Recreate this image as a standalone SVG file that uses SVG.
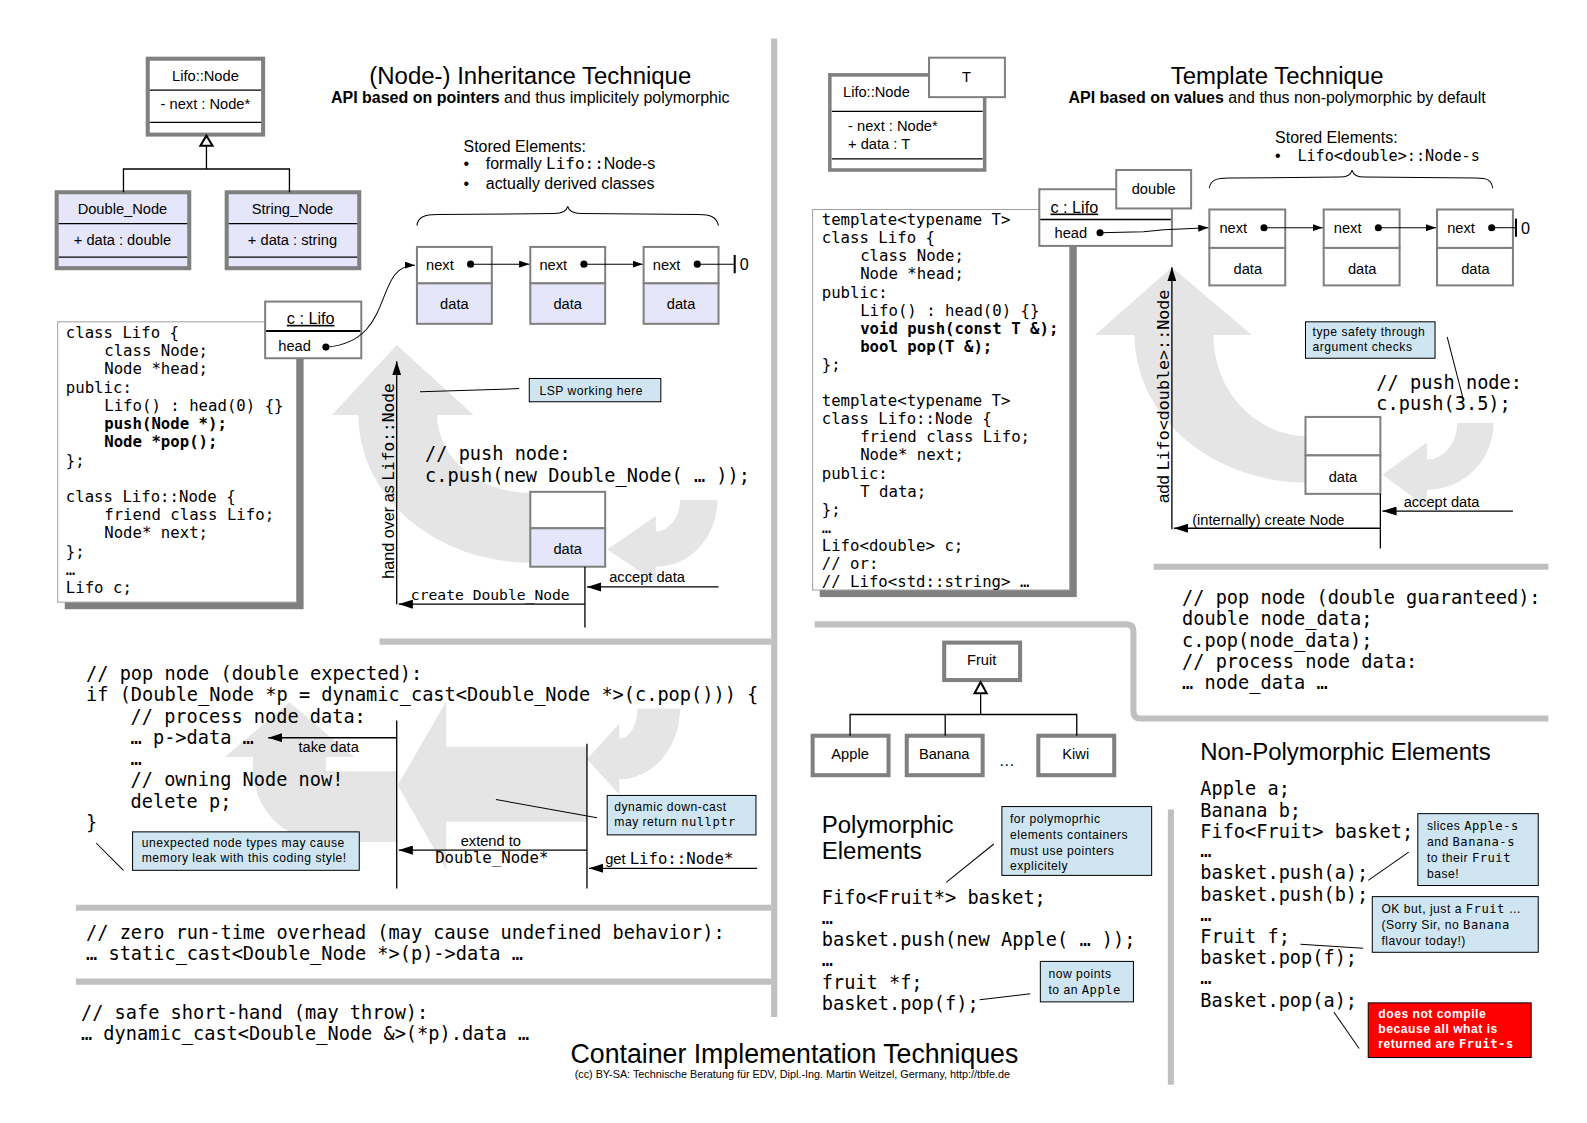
<svg xmlns="http://www.w3.org/2000/svg" width="1587" height="1123" viewBox="0 0 1587 1123">
<style>
text{font-family:"Liberation Sans",Arial,sans-serif;fill:#000}
.m,.m text{font-family:"DejaVu Sans Mono","Liberation Mono",monospace}
.c18,.c18 text{font-size:18.4px}
.c15,.c15 text{font-size:15.5px}
.b{font-weight:bold}
.lbl{font-size:14.5px}
.ttl{font-size:23.7px}
.sub{font-size:15.8px}
.note{font-size:12px;letter-spacing:0.5px}
.mid{text-anchor:middle}
.sep{fill:none;stroke:#c0c0c0;stroke-width:6}
.flow{fill:#e5e5e5}
.uml{fill:#fff;stroke:#808080;stroke-width:4}
.umlf{fill:#e6e6fa;stroke:#808080;stroke-width:4}
.nd{fill:#fff;stroke:#808080;stroke-width:2}
.ndf{fill:#e6e6fa;stroke:#808080;stroke-width:2}
.ln{stroke:#000;stroke-width:1.3;fill:none}
.thin{stroke:#000;stroke-width:1;fill:none}
.notebox{fill:#cfe6f2;stroke:#000;stroke-width:1}
.red{fill:#ff0000;stroke:#000;stroke-width:1}
.shadow{fill:#808080}
.codebox{fill:#fff;stroke:#a0a0a0;stroke-width:1}
.dot{fill:#000}
.tri{fill:#fff;stroke:#000;stroke-width:2}
.se{font-size:15.8px}
</style>
<defs>
<marker id="ah" viewBox="0 0 14 9" refX="14" refY="4.5" markerWidth="14" markerHeight="9" markerUnits="userSpaceOnUse" orient="auto"><path d="M0,0 L14,4.5 L0,9 z" fill="#000"/></marker>
<marker id="as" viewBox="0 0 10 7" refX="10" refY="3.5" markerWidth="10" markerHeight="7" markerUnits="userSpaceOnUse" orient="auto"><path d="M0,0 L10,3.5 L0,7 z" fill="#000"/></marker>
</defs>
<rect x="0" y="0" width="1587" height="1123" fill="#fff"/>
<g transform="scale(1.012)">

<g id="separators">
<line class="sep" x1="765" y1="38" x2="765" y2="1005"/>
<line class="sep" x1="375" y1="634" x2="762" y2="634"/>
<line class="sep" x1="75" y1="897" x2="762" y2="897"/>
<line class="sep" x1="75" y1="970" x2="762" y2="970"/>
<line class="sep" x1="1140" y1="560" x2="1530" y2="560"/>
<path class="sep" d="M805,617 L1113,617 Q1120,617 1120,624 L1120,703 Q1120,710 1127,710 L1530,710"/>
<line class="sep" x1="1157" y1="800" x2="1157" y2="1072"/>
</g>

<g id="flow-arrows">
<path class="flow" d="M354,410 A170,146 0 0 0 524,556 L524,487 A92,77 0 0 1 432,410 L468,410 L392,341 L328,410 Z"/>
<path class="flow" d="M709,494 A61,66 0 0 1 648,560 L648,575 L600,543 L648,510 L648,525 A24,31 0 0 0 672,494 Z"/>
<path class="flow" d="M580,738 L441,738 L441,693 L393,776 L441,860 L441,812 L580,812 Z"/>
<path class="flow" d="M672,700 A60,70 0 0 1 612,770 L612,785 L580,750 L612,715 L612,730 A18,30 0 0 0 630,700 Z"/>
<path class="flow" d="M392,762 L392,832 L322,832 A72,72 0 0 1 250,760 L250,748 L222,748 L286,694 L350,748 L322,748 L322,762 Z"/>
<path class="flow" d="M1121,331 A171,146 0 0 0 1292,477 L1292,431 A93,100 0 0 1 1199,331 L1237,331 L1158,264 L1082,331 Z"/>
<path class="flow" d="M1476,418 A66,66 0 0 1 1410,484 L1410,501 L1366,469 L1410,437 L1410,454 A30,36 0 0 0 1440,418 Z"/>
</g>

<g id="titles">
<text class="ttl mid" x="524" y="83">(Node-) Inheritance Technique</text>
<text class="sub mid" x="524" y="102"><tspan class="b">API based on pointers</tspan> and thus implicitely polymorphic</text>
<text class="ttl mid" x="1262" y="83">Template Technique</text>
<text class="sub mid" x="1262" y="102"><tspan class="b">API based on values</tspan> and thus non-polymorphic by default</text>
<text class="mid" x="785" y="1050" style="font-size:26.4px">Container Implementation Techniques</text>
<text class="mid" x="783" y="1065" style="font-size:10.7px">(cc) BY-SA: Technische Beratung für EDV, Dipl.-Ing. Martin Weitzel, Germany, http://tbfe.de</text>
</g>

<g id="uml-lifo-node">
<rect class="uml" x="146" y="58" width="114" height="75"/>
<line class="ln" x1="148" y1="89" x2="258" y2="89"/>
<line class="ln" x1="148" y1="121" x2="258" y2="121"/>
<text class="lbl mid" x="203" y="80">Lifo::Node</text>
<text class="lbl mid" x="203" y="108">- next : Node*</text>
</g>
<g id="uml-double-node">
<rect class="umlf" x="56" y="190" width="131" height="75"/>
<line class="ln" x1="58" y1="221" x2="185" y2="221"/>
<line class="ln" x1="58" y1="254" x2="185" y2="254"/>
<text class="lbl mid" x="121" y="211">Double_Node</text>
<text class="lbl mid" x="121" y="242">+ data : double</text>
</g>
<g id="uml-string-node">
<rect class="umlf" x="224" y="190" width="131" height="75"/>
<line class="ln" x1="226" y1="221" x2="353" y2="221"/>
<line class="ln" x1="226" y1="254" x2="353" y2="254"/>
<text class="lbl mid" x="289" y="211">String_Node</text>
<text class="lbl mid" x="289" y="242">+ data : string</text>
</g>

<g id="stored-left">
<text class="se" x="458" y="150">Stored Elements:</text>
<text class="se" x="458" y="167">•</text>
<text class="se" x="480" y="167">formally <tspan class="m">Lifo::</tspan>Node-s</text>
<text class="se" x="458" y="187">•</text>
<text class="se" x="480" y="187">actually derived classes</text>
<path class="thin" d="M412,223 C413,214 420,212 432,212 L548,211 C556,211 560,208 561,204 C562,208 566,211 574,211 L690,212 C702,212 708,214 710,223"/>
</g>

<g id="l-node1">
<rect class="nd" x="412" y="244" width="74" height="36"/>
<rect class="ndf" x="412" y="280" width="74" height="40"/>
<text class="lbl" x="421" y="267">next</text>
<text class="lbl mid" x="449" y="305">data</text>
</g>
<g id="l-node2">
<rect class="nd" x="524" y="244" width="74" height="36"/>
<rect class="ndf" x="524" y="280" width="74" height="40"/>
<text class="lbl" x="533" y="267">next</text>
<text class="lbl mid" x="561" y="305">data</text>
</g>
<g id="l-node3">
<rect class="nd" x="636" y="244" width="74" height="36"/>
<rect class="ndf" x="636" y="280" width="74" height="40"/>
<text class="lbl" x="645" y="267">next</text>
<text class="lbl mid" x="673" y="305">data</text>
</g>

<g id="l-code">
<rect class="shadow" x="64" y="325" width="236" height="277"/>
<rect class="codebox" x="57" y="318" width="236" height="277"/>
<g class="m c15">
<text x="65" y="334">class Lifo {</text>
<text x="103" y="352">class Node;</text>
<text x="103" y="370">Node *head;</text>
<text x="65" y="388">public:</text>
<text x="103" y="406">Lifo() : head(0) {}</text>
<text x="103" y="424" class="b">push(Node *);</text>
<text x="103" y="442" class="b">Node *pop();</text>
<text x="65" y="460">};</text>
<text x="65" y="496">class Lifo::Node {</text>
<text x="103" y="514">friend class Lifo;</text>
<text x="103" y="532">Node* next;</text>
<text x="65" y="550">};</text>
<text x="65" y="568">…</text>
<text x="65" y="586">Lifo c;</text>
</g>
</g>

<g id="l-lifo-obj">
<rect class="nd" x="262" y="298" width="95" height="56"/>
<line x1="263" y1="327" x2="356" y2="327" stroke="#000" stroke-width="2"/>
<text class="mid" style="font-size:16px;text-decoration:underline" x="307" y="320">c : Lifo</text>
<text class="lbl" x="275" y="347">head</text>
</g>

<g id="l-push-node">
<rect class="nd" x="524" y="486" width="74" height="36"/>
<rect class="ndf" x="524" y="522" width="74" height="38"/>
<text class="lbl mid" x="561" y="547">data</text>
</g>
<text class="m c18" x="420" y="455">// push node:</text>
<text class="m c18" x="420" y="476">c.push(new Double_Node( … ));</text>
<text style="font-size:16px" transform="translate(389,572) rotate(-90)">hand over as <tspan class="m">Lifo::Node</tspan></text>
<text class="m" style="font-size:14.5px" x="406" y="593">create Double_Node</text>
<text class="lbl" x="602" y="575">accept data</text>

<g id="note-lsp">
<rect class="notebox" x="523" y="374" width="130" height="23"/>
<text class="note" x="533" y="390">LSP working here</text>
</g>

<g id="pop-code" class="m c18">
<text x="85" y="672">// pop node (double expected):</text>
<text x="85" y="693">if (Double_Node *p = dynamic_cast&lt;Double_Node *&gt;(c.pop())) {</text>
<text x="129" y="714">// process node data:</text>
<text x="129" y="735">… p-&gt;data …</text>
<text x="129" y="756">…</text>
<text x="129" y="777">// owning Node now!</text>
<text x="129" y="798">delete p;</text>
<text x="85" y="819">}</text>
</g>
<text class="lbl" x="295" y="743">take data</text>
<text class="lbl mid" x="485" y="836">extend to</text>
<text class="m" style="font-size:15.5px" x="430" y="853">Double_Node*</text>
<text class="lbl" x="598" y="854">get <tspan class="m" style="font-size:15.5px">Lifo::Node*</tspan></text>

<g id="note-downcast">
<rect class="notebox" x="600" y="786" width="147" height="39"/>
<text class="note" x="607" y="801">dynamic down-cast</text>
<text class="note" x="607" y="816">may return <tspan class="m">nullptr</tspan></text>
</g>
<g id="note-leak">
<rect class="notebox" x="131" y="822" width="224" height="38"/>
<text class="note" x="140" y="837">unexpected node types may cause</text>
<text class="note" x="140" y="852">memory leak with this coding style!</text>
</g>

<g id="cast-code" class="m c18">
<text x="85" y="928">// zero run-time overhead (may cause undefined behavior):</text>
<text x="85" y="949">… static_cast&lt;Double_Node *&gt;(p)-&gt;data …</text>
<text x="80" y="1007">// safe short-hand (may throw):</text>
<text x="80" y="1028">… dynamic_cast&lt;Double_Node &amp;&gt;(*p).data …</text>
</g>

<g id="uml-tpl-node">
<rect class="uml" x="820" y="74" width="153" height="94" style="stroke-width:3.5"/>
<line class="ln" x1="822" y1="110" x2="971" y2="110"/>
<line class="ln" x1="822" y1="157" x2="971" y2="157"/>
<text class="lbl" x="833" y="96">Lifo::Node</text>
<text class="lbl" x="838" y="129">- next : Node*</text>
<text class="lbl" x="838" y="147">+ data : T</text>
<rect class="nd" x="918" y="57" width="75" height="39"/>
<text class="lbl mid" x="955" y="81">T</text>
</g>

<g id="stored-right">
<text class="se" x="1260" y="141">Stored Elements:</text>
<text class="se" x="1260" y="159">•</text>
<text class="m" style="font-size:15px" x="1282" y="159">Lifo&lt;double&gt;::Node-s</text>
<path class="thin" d="M1195,186 C1196,178 1202,176 1214,176 L1324,175 C1331,175 1335,172 1336,168 C1337,172 1341,175 1348,175 L1458,176 C1470,176 1474,178 1475,186"/>
</g>

<g id="r-code">
<rect class="shadow" x="810" y="214" width="254" height="376"/>
<rect class="codebox" x="803" y="207" width="254" height="376"/>
<g class="m c15">
<text x="812" y="222">template&lt;typename T&gt;</text>
<text x="812" y="240">class Lifo {</text>
<text x="850" y="258">class Node;</text>
<text x="850" y="276">Node *head;</text>
<text x="812" y="294">public:</text>
<text x="850" y="312">Lifo() : head(0) {}</text>
<text x="850" y="330" class="b">void push(const T &amp;);</text>
<text x="850" y="348" class="b">bool pop(T &amp;);</text>
<text x="812" y="366">};</text>
<text x="812" y="401">template&lt;typename T&gt;</text>
<text x="812" y="419">class Lifo::Node {</text>
<text x="850" y="437">friend class Lifo;</text>
<text x="850" y="455">Node* next;</text>
<text x="812" y="473">public:</text>
<text x="850" y="491">T data;</text>
<text x="812" y="509">};</text>
<text x="812" y="527">…</text>
<text x="812" y="544">Lifo&lt;double&gt; c;</text>
<text x="812" y="562">// or:</text>
<text x="812" y="580">// Lifo&lt;std::string&gt; …</text>
</g>
</g>

<g id="r-lifo-obj">
<rect class="nd" x="1027" y="187" width="131" height="56"/>
<line x1="1028" y1="217" x2="1157" y2="217" stroke="#000" stroke-width="1.5"/>
<text style="font-size:16px;text-decoration:underline" x="1038" y="210">c : Lifo</text>
<text class="lbl" x="1042" y="235">head</text>
<rect class="nd" x="1103" y="168" width="74" height="38"/>
<text class="lbl mid" x="1140" y="192">double</text>
</g>

<g id="r-node1">
<rect class="nd" x="1195" y="207" width="75" height="38"/>
<rect class="nd" x="1195" y="245" width="75" height="37"/>
<text class="lbl" x="1205" y="230">next</text>
<text class="lbl mid" x="1233" y="271">data</text>
</g>
<g id="r-node2">
<rect class="nd" x="1308" y="207" width="75" height="38"/>
<rect class="nd" x="1308" y="245" width="75" height="37"/>
<text class="lbl" x="1318" y="230">next</text>
<text class="lbl mid" x="1346" y="271">data</text>
</g>
<g id="r-node3">
<rect class="nd" x="1420" y="207" width="75" height="38"/>
<rect class="nd" x="1420" y="245" width="75" height="37"/>
<text class="lbl" x="1430" y="230">next</text>
<text class="lbl mid" x="1458" y="271">data</text>
</g>

<g id="r-push-node">
<rect class="nd" x="1290" y="412" width="74" height="38"/>
<rect class="nd" x="1290" y="450" width="74" height="38"/>
<text class="lbl mid" x="1327" y="476">data</text>
</g>
<text class="m c18" x="1360" y="384">// push node:</text>
<text class="m c18" x="1360" y="405">c.push(3.5);</text>
<text style="font-size:16.5px" transform="translate(1155,497) rotate(-90)">add <tspan class="m">Lifo&lt;double&gt;::Node</tspan></text>
<text class="lbl" x="1178" y="519">(internally) create Node</text>
<text class="lbl" x="1387" y="501">accept data</text>
<g id="note-typesafety">
<rect class="notebox" x="1290" y="318" width="128" height="36"/>
<text class="note" x="1297" y="332">type safety through</text>
<text class="note" x="1297" y="347">argument checks</text>
</g>

<g id="pop-right" class="m c18">
<text x="1168" y="597">// pop node (double guaranteed):</text>
<text x="1168" y="618">double node_data;</text>
<text x="1168" y="639">c.pop(node_data);</text>
<text x="1168" y="660">// process node data:</text>
<text x="1168" y="681">… node_data …</text>
</g>

<g id="uml-fruit">
<rect class="uml" x="933" y="635" width="75" height="37"/>
<text class="lbl mid" x="970" y="657">Fruit</text>
</g>
<g id="uml-apple">
<rect class="uml" x="803" y="727" width="75" height="39"/>
<text class="lbl mid" x="840" y="750">Apple</text>
</g>
<g id="uml-banana">
<rect class="uml" x="896" y="727" width="75" height="39"/>
<text class="lbl mid" x="933" y="750">Banana</text>
</g>
<g id="uml-kiwi">
<rect class="uml" x="1026" y="727" width="75" height="39"/>
<text class="lbl mid" x="1063" y="750">Kiwi</text>
</g>
<text style="font-size:16px" x="987" y="757">…</text>

<text class="ttl" x="812" y="823">Polymorphic</text>
<text class="ttl" x="812" y="849">Elements</text>
<g id="note-polymorphic">
<rect class="notebox" x="990" y="797" width="148" height="68"/>
<text class="note" x="998" y="813">for polymoprhic</text>
<text class="note" x="998" y="829">elements containers</text>
<text class="note" x="998" y="845">must use pointers</text>
<text class="note" x="998" y="860">explicitely</text>
</g>
<g id="poly-code" class="m c18">
<text x="812" y="893">Fifo&lt;Fruit*&gt; basket;</text>
<text x="812" y="913">…</text>
<text x="812" y="935">basket.push(new Apple( … ));</text>
<text x="812" y="955">…</text>
<text x="812" y="977">fruit *f;</text>
<text x="812" y="998">basket.pop(f);</text>
</g>
<g id="note-nowpoints">
<rect class="notebox" x="1028" y="950" width="92" height="40"/>
<text class="note" x="1036" y="966">now points</text>
<text class="note" x="1036" y="982">to an <tspan class="m">Apple</tspan></text>
</g>

<text class="ttl" x="1186" y="751">Non-Polymorphic Elements</text>
<g id="nonpoly-code" class="m c18">
<text x="1186" y="786">Apple a;</text>
<text x="1186" y="807">Banana b;</text>
<text x="1186" y="828">Fifo&lt;Fruit&gt; basket;</text>
<text x="1186" y="847">…</text>
<text x="1186" y="869">basket.push(a);</text>
<text x="1186" y="890">basket.push(b);</text>
<text x="1186" y="910">…</text>
<text x="1186" y="932">Fruit f;</text>
<text x="1186" y="953">basket.pop(f);</text>
<text x="1186" y="972">…</text>
<text x="1186" y="995">Basket.pop(a);</text>
</g>
<g id="note-slices">
<rect class="notebox" x="1401" y="804" width="119" height="71"/>
<text class="note" x="1410" y="820">slices <tspan class="m">Apple-s</tspan></text>
<text class="note" x="1410" y="836">and <tspan class="m">Banana-s</tspan></text>
<text class="note" x="1410" y="852">to their <tspan class="m">Fruit</tspan></text>
<text class="note" x="1410" y="868">base!</text>
</g>
<g id="note-okbut">
<rect class="notebox" x="1356" y="886" width="164" height="55"/>
<text class="note" x="1365" y="902">OK but, just a <tspan class="m">Fruit</tspan> …</text>
<text class="note" x="1365" y="918">(Sorry Sir, no <tspan class="m">Banana</tspan></text>
<text class="note" x="1365" y="934">flavour today!)</text>
</g>
<g id="note-nocompile">
<rect class="red" x="1352" y="991" width="161" height="54"/>
<text class="note b" x="1362" y="1006" style="fill:#fff">does not compile</text>
<text class="note b" x="1362" y="1021" style="fill:#fff">because all what is</text>
<text class="note b" x="1362" y="1036" style="fill:#fff">returned are <tspan class="m">Fruit-s</tspan></text>
</g>

<g id="connectors">
<polygon class="tri" points="204,134 198,144 210,144"/>
<polyline class="ln" points="204,144 204,167"/>
<polyline class="ln" points="122,190 122,167 286,167 286,190"/>
<polygon class="tri" points="969,674 963,685 975,685"/>
<polyline class="ln" points="969,685 969,706"/>
<polyline class="ln" points="840,727 840,706 1064,706 1064,727"/>
<line class="ln" x1="934" y1="706" x2="934" y2="727"/>

<circle class="dot" cx="322" cy="343" r="3.5"/>
<path class="thin" d="M322,343 C392,338 368,262 410,262" marker-end="url(#as)"/>
<circle class="dot" cx="465" cy="261" r="3.5"/>
<line class="thin" x1="465" y1="261" x2="523" y2="261" marker-end="url(#as)"/>
<circle class="dot" cx="577" cy="261" r="3.5"/>
<line class="thin" x1="577" y1="261" x2="635" y2="261" marker-end="url(#as)"/>
<circle class="dot" cx="689" cy="261" r="3.5"/>
<line class="thin" x1="689" y1="261" x2="726" y2="261"/>
<line class="ln" x1="726" y1="252" x2="726" y2="270" style="stroke-width:2"/>
<text style="font-size:16px" x="731" y="267">0</text>

<line class="ln" x1="392" y1="597" x2="392" y2="357" marker-end="url(#ah)"/>
<line class="ln" x1="578" y1="597" x2="394" y2="597" marker-end="url(#ah)"/>
<line class="ln" x1="578" y1="560" x2="578" y2="620"/>
<line class="ln" x1="710" y1="580" x2="580" y2="580" marker-end="url(#ah)"/>
<line class="thin" x1="415" y1="387" x2="513" y2="384"/>

<line class="ln" x1="392" y1="712" x2="392" y2="878"/>
<line class="ln" x1="580" y1="735" x2="580" y2="878"/>
<line class="ln" x1="392" y1="729" x2="265" y2="729" marker-end="url(#ah)"/>
<line class="ln" x1="580" y1="840" x2="394" y2="840" marker-end="url(#ah)"/>
<line class="ln" x1="748" y1="858" x2="582" y2="858" marker-end="url(#ah)"/>
<line class="thin" x1="490" y1="790" x2="590" y2="808"/>
<line class="thin" x1="95" y1="833" x2="122" y2="860"/>

<circle class="dot" cx="1087" cy="230" r="3.5"/>
<path class="thin" d="M1087,230 L1130,229 L1150,227 L1194,225" marker-end="url(#as)"/>
<circle class="dot" cx="1249" cy="225" r="3.5"/>
<line class="thin" x1="1249" y1="225" x2="1307" y2="225" marker-end="url(#as)"/>
<circle class="dot" cx="1362" cy="225" r="3.5"/>
<line class="thin" x1="1362" y1="225" x2="1419" y2="225" marker-end="url(#as)"/>
<circle class="dot" cx="1474" cy="225" r="3.5"/>
<line class="thin" x1="1474" y1="225" x2="1498" y2="225"/>
<line class="ln" x1="1498" y1="216" x2="1498" y2="234" style="stroke-width:2"/>
<text style="font-size:16px" x="1503" y="231">0</text>

<line class="ln" x1="1158" y1="523" x2="1158" y2="264" marker-end="url(#ah)"/>
<line class="ln" x1="1364" y1="488" x2="1364" y2="542"/>
<line class="ln" x1="1364" y1="522" x2="1160" y2="522" marker-end="url(#ah)"/>
<line class="ln" x1="1495" y1="505" x2="1366" y2="505" marker-end="url(#ah)"/>
<line class="thin" x1="1430" y1="333" x2="1446" y2="395"/>

<line class="thin" x1="935" y1="872" x2="982" y2="834"/>
<line class="thin" x1="968" y1="988" x2="1018" y2="982"/>
<line class="thin" x1="1352" y1="870" x2="1392" y2="842"/>
<line class="thin" x1="1285" y1="933" x2="1347" y2="937"/>
<line class="thin" x1="1318" y1="1000" x2="1343" y2="1036"/>
</g>

</g>
</svg>
